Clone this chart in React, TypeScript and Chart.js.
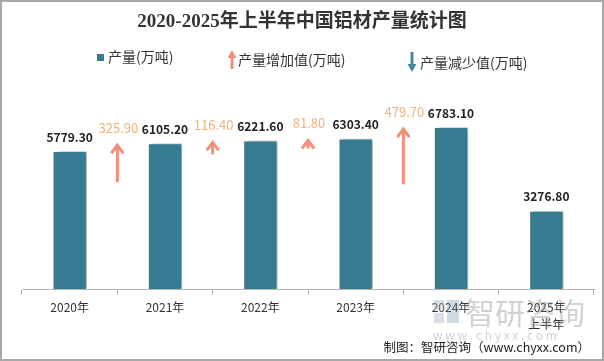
import React, { useEffect, useRef } from "react";
import { Chart, registerables } from "chart.js";

Chart.register(...registerables);

const categories: (string | string[])[] = ["2020年", "2021年", "2022年", "2023年", "2024年", ["2025年", "上半年"]];
const production = [5779.3, 6105.2, 6221.6, 6303.4, 6783.1, 3276.8];
const increases = [325.9, 116.4, 81.8, 479.7];
const valueLabels = ["5779.30", "6105.20", "6221.60", "6303.40", "6783.10", "3276.80"];
const increaseLabels = ["325.90", "116.40", "81.80", "479.70"];

const TITLE = "2020-2025年上半年中国铝材产量统计图";
const LEGEND = ["产量(万吨)", "产量增加值(万吨)", "产量减少值(万吨)"];
const FOOTER = "制图：智研咨询（www.chyxx.com）";

const BAR_COLOR = "#377B93";
const UP_COLOR = "#F0907A";
const UP_LABEL = "#F4B07A";
const DOWN_COLOR = "#4A86A0";
const SANS = '"Noto Sans CJK SC", "Noto Sans", sans-serif';
const ARROW_SCALE = 5;

function upArrowHead(ctx: CanvasRenderingContext2D, x: number, top: number, bottom: number, color: string) {
  ctx.save();
  ctx.strokeStyle = color;
  ctx.lineWidth = 3;
  ctx.lineJoin = "miter";
  ctx.beginPath();
  ctx.moveTo(x, top + 2);
  ctx.lineTo(x, Math.max(bottom, top + 10));
  ctx.stroke();
  ctx.beginPath();
  ctx.moveTo(x - 6, top + 10);
  ctx.lineTo(x, top + 2);
  ctx.lineTo(x + 6, top + 10);
  ctx.stroke();
  ctx.restore();
}

function legendArrow(ctx: CanvasRenderingContext2D, x: number, y1: number, y2: number, color: string, up: boolean) {
  ctx.save();
  ctx.fillStyle = color;
  ctx.strokeStyle = color;
  ctx.lineWidth = 3;
  ctx.beginPath();
  if (up) {
    ctx.moveTo(x, y2);
    ctx.lineTo(x, y1 + 6);
  } else {
    ctx.moveTo(x, y1);
    ctx.lineTo(x, y2 - 6);
  }
  ctx.stroke();
  ctx.beginPath();
  if (up) {
    ctx.moveTo(x, y1);
    ctx.lineTo(x - 4.5, y1 + 8);
    ctx.lineTo(x + 4.5, y1 + 8);
  } else {
    ctx.moveTo(x, y2);
    ctx.lineTo(x - 4.5, y2 - 8);
    ctx.lineTo(x + 4.5, y2 - 8);
  }
  ctx.closePath();
  ctx.fill();
  ctx.restore();
}

const overlay = {
  id: "overlay",
  beforeDraw(chart: any) {
    const ctx = chart.ctx;
    ctx.save();
    ctx.fillStyle = "#ffffff";
    ctx.fillRect(0, 0, chart.width, chart.height);
    ctx.restore();
  },
  beforeDatasetDraw(chart: any) {
    const ctx = chart.ctx;
    ctx.save();
    ctx.shadowColor = "rgba(0,0,0,0.35)";
    ctx.shadowBlur = 4;
    ctx.shadowOffsetX = 4;
    ctx.shadowOffsetY = 0;
  },
  afterDatasetDraw(chart: any) {
    chart.ctx.restore();
  },
  afterDatasetsDraw(chart: any) {
    const ctx = chart.ctx;
    const meta = chart.getDatasetMeta(0);
    const y = chart.scales.y;
    ctx.save();
    ctx.textAlign = "center";
    ctx.textBaseline = "middle";
    ctx.font = `bold 12px ${SANS}`;
    ctx.fillStyle = "#222222";
    meta.data.forEach((bar: any, i: number) => {
      ctx.fillText(valueLabels[i], bar.x, bar.y - 14);
    });
    increases.forEach((inc, i) => {
      const x = (meta.data[i].x + meta.data[i + 1].x) / 2;
      const top = y.getPixelForValue(production[i + 1]);
      const bottom = y.getPixelForValue(production[i + 1] - inc * ARROW_SCALE);
      upArrowHead(ctx, x, top, bottom, UP_COLOR);
      ctx.font = `13px ${SANS}`;
      ctx.fillStyle = UP_LABEL;
      ctx.fillText(increaseLabels[i], x + 1, top - 15);
    });
    ctx.restore();
  },
  afterDraw(chart: any) {
    const ctx = chart.ctx;
    ctx.save();
    // title
    ctx.textAlign = "center";
    ctx.textBaseline = "middle";
    ctx.fillStyle = "#333333";
    ctx.font = `bold 19px "Liberation Serif", "Noto Sans CJK SC", serif`;
    ctx.fillText(TITLE, 302, 22);

    // legend
    ctx.textAlign = "left";
    ctx.font = `14px ${SANS}`;
    ctx.fillStyle = BAR_COLOR;
    ctx.fillRect(97, 54, 7, 7);
    ctx.fillStyle = "#333333";
    ctx.fillText(LEGEND[0], 108, 57);
    legendArrow(ctx, 232, 50, 69, UP_COLOR, true);
    ctx.fillStyle = "#333333";
    ctx.fillText(LEGEND[1], 238, 60);
    legendArrow(ctx, 412, 52, 72, DOWN_COLOR, false);
    ctx.fillStyle = "#333333";
    ctx.fillText(LEGEND[2], 420, 63);

    // watermark
    ctx.fillStyle = "rgba(170,185,200,0.45)";
    ctx.fillRect(434, 300, 10, 10);
    ctx.fillRect(434, 313, 10, 10);
    ctx.fillStyle = "rgba(120,150,180,0.35)";
    ctx.fillRect(447, 300, 12, 23);
    ctx.fillStyle = "rgba(140,140,140,0.4)";
    ctx.font = `30px ${SANS}`;
    ctx.textBaseline = "middle";
    ctx.fillText("智研咨询", 465, 313);
    ctx.font = `12px ${SANS}`;
    ctx.fillText("w w w . c h y x x . c o m", 433, 335);

    // footer
    ctx.fillStyle = "#222222";
    ctx.font = `12.5px ${SANS}`;
    ctx.textAlign = "right";
    ctx.fillText(FOOTER, 590, 347);

    // border
    ctx.strokeStyle = "#a8a8a8";
    ctx.lineWidth = 2;
    ctx.strokeRect(1, 1, chart.width - 2, chart.height - 2);
    ctx.restore();
  },
};

export default function App() {
  const ref = useRef<HTMLCanvasElement | null>(null);
  useEffect(() => {
    document.body.style.margin = "0";
    if (!ref.current) return;
    const chart = new Chart(ref.current, {
      type: "bar",
      data: {
        labels: categories as any,
        datasets: [
          {
            label: LEGEND[0],
            data: production,
            backgroundColor: BAR_COLOR,
            borderColor: "rgba(255,255,255,0.7)",
            borderWidth: 1,
            categoryPercentage: 1,
            barPercentage: 0.36,
          },
        ],
      },
      options: {
        animation: false,
        responsive: false,
        maintainAspectRatio: false,
        layout: { padding: { top: 98, left: 22, right: 10, bottom: 0 } },
        plugins: {
          legend: { display: false },
          title: { display: false },
          tooltip: { enabled: false },
        },
        scales: {
          y: { display: false, min: 0, max: 8000 },
          x: {
            afterFit: (scale: any) => {
              scale.height = 72;
            },
            grid: {
              display: true,
              offset: true,
              drawOnChartArea: false,
              drawTicks: true,
              tickLength: 6,
              color: "#b5b5b5",
            },
            border: { display: true, color: "#b5b5b5" },
            ticks: {
              color: "#333333",
              font: { size: 12, family: SANS, lineHeight: 1.4 },
              padding: 4,
              maxRotation: 0,
            },
          },
        },
      },
      plugins: [overlay],
    });
    return () => chart.destroy();
  }, []);
  return <canvas ref={ref} width={604} height={361} style={{ display: "block" }} />;
}
